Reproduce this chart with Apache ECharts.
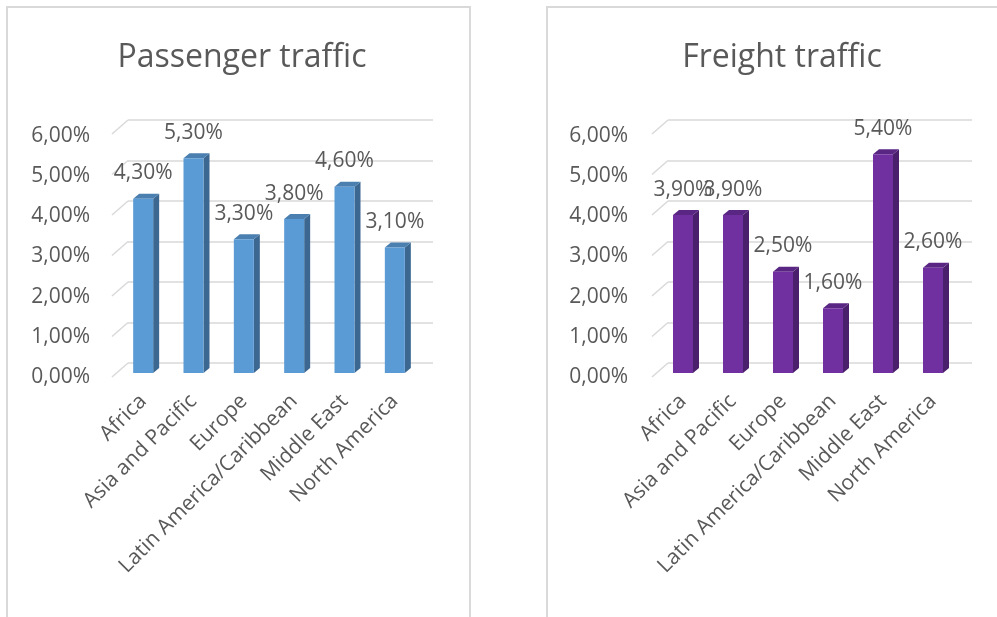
<!DOCTYPE html>
<html>
<head>
<meta charset="utf-8">
<script src="https://cdn.jsdelivr.net/npm/echarts@6/dist/echarts.min.js"></script>
<style>
html,body{margin:0;padding:0;background:#fff;}
#c{width:997px;height:617px;}
</style>
</head>
<body>
<div id="c"></div>
<script>
const categories = ['Africa', 'Asia and Pacific', 'Europe', 'Latin America/Caribbean', 'Middle East', 'North America'];
const passengerValues = [4.3, 5.3, 3.3, 3.8, 4.6, 3.1];
const freightValues = [3.9, 3.9, 2.5, 1.6, 5.4, 2.6];
const yTicks = [0, 1, 2, 3, 4, 5, 6];
const titles = ['Passenger traffic', 'Freight traffic'];

const FONT = '"Open Sans", "Noto Sans", sans-serif';
const GRAY = '#595959';
const GRID_COLOR = '#d9d9d9';
const fmt = v => v.toFixed(2).replace('.', ',') + '%';

const palettes = [
  { front: '#5b9bd5', side: '#3c6791', top: '#4a7fb0' },
  { front: '#7030a0', side: '#4a1f6b', top: '#5a2683' }
];

// layout per panel
const panels = [
  { barLeft: 118, barWidth: 302, backLeft: 128, backWidth: 305, labelLeft: 112, titleX: 237, values: passengerValues },
  { barLeft: 658, barWidth: 300, backLeft: 668, backWidth: 304, labelLeft: 652, titleX: 777, values: freightValues }
];

const H = 617;
const grid = [], xAxis = [], yAxis = [], series = [], title = [];

panels.forEach((p, i) => {
  const base = grid.length;
  // back wall grid (gridlines)
  grid.push({ left: p.backLeft, width: p.backWidth, top: 120, bottom: H - 363 });
  // front label grid
  grid.push({ left: p.labelLeft, width: 10, top: 136, bottom: H - 377 });
  // bar grid
  grid.push({ left: p.barLeft, width: p.barWidth, top: 130, bottom: H - 373 });

  // back grid axes
  xAxis.push({ gridIndex: base, type: 'value', min: 0, max: 1, show: false });
  yAxis.push({ gridIndex: base, type: 'value', min: 0, max: 6, interval: 1,
    axisLine: { show: false }, axisTick: { show: false }, axisLabel: { show: false },
    splitLine: { show: true, lineStyle: { color: GRID_COLOR, width: 1.5 } } });
  // label grid axes
  xAxis.push({ gridIndex: base + 1, type: 'value', min: 0, max: 1, show: false });
  yAxis.push({ gridIndex: base + 1, type: 'value', min: 0, max: 6, interval: 1,
    axisLine: { show: false }, axisTick: { show: false }, splitLine: { show: false },
    axisLabel: { margin: i === 0 ? 22 : 24, color: GRAY, fontSize: 21, fontFamily: FONT,
      formatter: v => fmt(v) } });
  // bar grid axes
  xAxis.push({ gridIndex: base + 2, type: 'category', data: categories,
    axisLine: { show: false }, axisTick: { show: false },
    axisLabel: { rotate: 45, margin: 25, color: GRAY, fontSize: 21, fontFamily: FONT, interval: 0 } });
  yAxis.push({ gridIndex: base + 2, type: 'value', min: 0, max: 6, show: false });

  // perspective stubs on the back grid
  series.push({
    type: 'custom', xAxisIndex: base, yAxisIndex: base, silent: true,
    data: yTicks.map(t => [0, t]),
    renderItem: (params, api) => {
      const pt = api.coord([0, api.value(1)]);
      return { type: 'line', shape: { x1: pt[0], y1: pt[1], x2: pt[0] - 16, y2: pt[1] + 14 },
        style: { stroke: GRID_COLOR, lineWidth: 1.5 } };
    }
  });

  const pal = palettes[i];
  // front faces
  series.push({
    type: 'bar', xAxisIndex: base + 2, yAxisIndex: base + 2, barWidth: 20,
    data: p.values, z: 3,
    itemStyle: { color: pal.front },
    label: { show: true, position: 'top', distance: 15, color: GRAY, fontSize: 21, fontFamily: FONT,
      formatter: o => fmt(o.value) }
  });
  // 3D side and top faces
  series.push({
    type: 'custom', xAxisIndex: base + 2, yAxisIndex: base + 2, silent: true, z: 2,
    data: p.values.map((v, k) => [k, v]),
    encode: { x: 0, y: 1 },
    renderItem: (params, api) => {
      const top = api.coord([api.value(0), api.value(1)]);
      const bot = api.coord([api.value(0), 0]);
      const x = top[0], yt = top[1], yb = bot[1];
      const hw = 10, dx = 6, dy = 5;
      return { type: 'group', children: [
        { type: 'polygon', shape: { points: [[x + hw, yt], [x + hw + dx, yt - dy], [x + hw + dx, yb - dy], [x + hw, yb]] },
          style: { fill: pal.side } },
        { type: 'polygon', shape: { points: [[x - hw, yt], [x - hw + dx, yt - dy], [x + hw + dx, yt - dy], [x + hw, yt]] },
          style: { fill: pal.top } }
      ] };
    }
  });

  title.push({ text: titles[i], left: p.titleX, top: 37, textAlign: 'center',
    textStyle: { color: GRAY, fontSize: 32, fontWeight: 'normal', fontFamily: FONT } });
});

const chart = echarts.init(document.getElementById('c'));
chart.setOption({
  animation: false,
  title: title,
  grid: grid,
  xAxis: xAxis,
  yAxis: yAxis,
  series: series,
  graphic: [
    { type: 'rect', shape: { x: 7, y: 7, width: 463, height: 700 }, style: { fill: 'none', stroke: GRID_COLOR, lineWidth: 2 }, silent: true },
    { type: 'rect', shape: { x: 547, y: 7, width: 500, height: 700 }, style: { fill: 'none', stroke: GRID_COLOR, lineWidth: 2 }, silent: true }
  ]
});
</script>
</body>
</html>
